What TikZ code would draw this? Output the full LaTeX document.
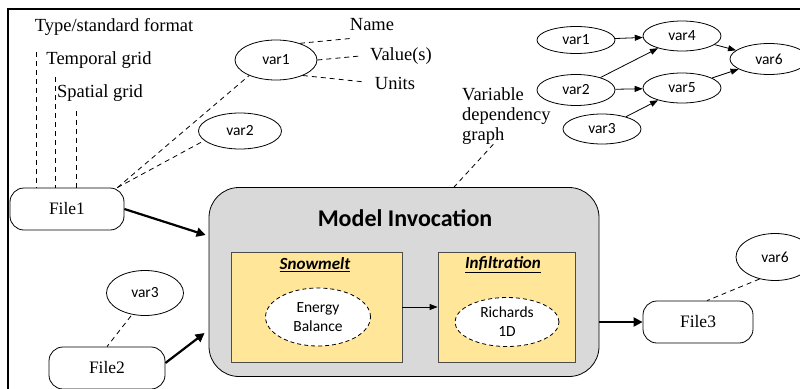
\documentclass[tikz,border=0pt]{standalone}
\usepackage{fontspec}
\setmainfont{Liberation Serif}
\newfontfamily\calibri{Carlito}
\usetikzlibrary{arrows.meta,shapes.geometric}
\definecolor{modelgray}{RGB}{217,217,217}
\definecolor{procgold}{RGB}{255,230,153}

\begin{document}
\begin{tikzpicture}[x=1pt,y=-1pt]
\tikzstyle{file} = [rectangle, rounded corners=14pt, draw=black, thick, fill=white, minimum width=114pt, minimum height=42pt, font=\fontsize{17.5}{20}\selectfont]
\tikzstyle{var} = [ellipse, draw=black, thick, fill=white, inner sep=0pt, minimum width=78pt, minimum height=31pt, font=\calibri\fontsize{15.5}{17}\selectfont]
\tikzstyle{annot} = [inner sep=0pt, font=\fontsize{18.5}{20}\selectfont]
\tikzstyle{proc} = [rectangle, draw=black!70, thick, fill=procgold, minimum height=110pt]
\tikzstyle{proctitle} = [inner sep=0pt, font=\calibri\bfseries\itshape\fontsize{17}{19}\selectfont]
\tikzstyle{method} = [ellipse, draw=black, thick, dash pattern=on 4pt off 3pt, fill=white, inner sep=0pt, align=center, font=\calibri\fontsize{15.5}{19}\selectfont]
\tikzstyle{link} = [thick, dash pattern=on 5pt off 4pt]
\tikzstyle{edge} = [-{Triangle[length=8pt,width=6pt]}, thick]
\tikzstyle{flow} = [-{Triangle[length=9pt,width=9pt]}, line width=2.2pt]
\useasboundingbox (0,0) rectangle (800,388);
\draw[line width=1.8pt] (820,9) -- (8,9) -- (8,400);
% file 1 and its metadata
\node[annot] (type) at (114,27) {Type/standard format};
\node[annot] (temporal) at (99,60) {Temporal grid};
\node[annot] (spatial) at (100,93) {Spatial grid};
\node[file] (file1) at (67,209) {File1};
\coordinate (typeend) at (36,52);
\coordinate (temporalend) at (55,77);
\coordinate (spatialend) at (76,111);
\draw[link] (typeend) -- (typeend |- file1.north);
\draw[link] (temporalend) -- (temporalend |- file1.north);
\draw[link] (spatialend) -- (spatialend |- file1.north);
\node[var, minimum width=82pt, minimum height=40pt] (var1) at (276,60) {var1};
\node[var, minimum width=83pt, minimum height=36pt] (var2) at (240,131) {var2};
\draw[link] ([xshift=-7pt]file1.north east) -- (var1.210);
\draw[link] ([xshift=-7pt]file1.north east) -- (var2.195);
\node[annot] (name) at (372,25) {Name};
\node[annot] (value) at (401,56) {Value(s)};
\node[annot] (units) at (395,83) {Units};
\draw[link] (var1.35) -- ([xshift=2pt,yshift=-7pt]name.south west);
\draw[link] (var1.east) -- ([xshift=-10pt]value.west);
\draw[link] (var1.-30) -- ([xshift=-10pt,yshift=1pt]units.west);
% dependency graph
\node[annot, align=left, anchor=north west] (depgraph) at (462,87) {Variable\\dependency\\graph};
\node[var, minimum height=27pt] (dv1) at (576,40) {var1};
\node[var, minimum height=31pt] (dv2) at (576,90) {var2};
\node[var, minimum height=30pt] (dv3) at (602,129) {var3};
\node[var, minimum height=30pt] (dv4) at (682,36) {var4};
\node[var, minimum height=30pt] (dv5) at (682,88) {var5};
\node[var, minimum height=31pt] (dv6) at (769,59) {var6};
\draw[edge] (dv1) -- (dv4);
\draw[edge] (dv2) -- (dv4);
\draw[edge] (dv2) -- (dv5);
\draw[edge] (dv3) -- (dv5);
\draw[edge] (dv4) -- (dv6);
\draw[edge] (dv5) -- (dv6);
% model invocation
\node[draw=black, thick, rounded corners=30pt, fill=modelgray, minimum width=390pt, minimum height=189pt] (model) at (404,282) {};
\node[inner sep=0pt, font=\calibri\bfseries\fontsize{24}{26}\selectfont] (title) at (405,218) {Model Invocation};
\draw[link] ([xshift=-13pt]depgraph.south) -- ([xshift=50pt]model.north);
\node[proc, minimum width=171pt] (snow) at (316.5,307) {};
\node[proc, minimum width=137pt] (infil) at (506.5,307) {};
\node[proctitle] (snowtitle) at (315,265) {\underline{Snowmelt}};
\node[proctitle] (infiltitle) at (503,265) {\underline{Infiltration}};
\node[method, minimum width=105pt, minimum height=58pt] (energy) at (318,317) {Energy\\Balance};
\node[method, minimum width=104pt, minimum height=49pt] (richards) at (507,322) {Richards\\1D};
\draw[edge] (snow) -- (infil);
% input and output files
\node[file, minimum width=116pt] (file2) at (107,368) {File2};
\node[var, minimum width=77pt, minimum height=45pt] (var3) at (145,293) {var3};
\draw[link] ([xshift=-14pt]var3.south) -- (file2.north);
\node[file, minimum width=110pt] (file3) at (698,322) {File3};
\node[var, minimum width=78pt, minimum height=47pt] (var6) at (775,257) {var6};
\draw[link] (var6.235) -- ([xshift=9pt]file3.north);
\draw[flow] (file1.east) -- ([xshift=-3pt,yshift=47pt]model.west);
\draw[flow] ([yshift=5pt]file2.east) -- ([xshift=-4pt,yshift=-51pt]model.west);
\draw[flow] (model.east |- file3.west) -- (file3.west);
\end{tikzpicture}
\end{document}
